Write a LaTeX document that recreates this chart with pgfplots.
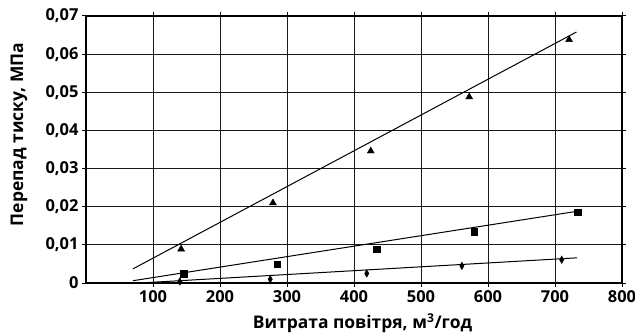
\documentclass[border=0pt]{standalone}
\usepackage{fontspec}
\setmainfont{Open Sans}
\usepackage{pgfplots}
\pgfplotsset{compat=1.18}
\begin{document}
\begin{tikzpicture}[x=1bp,y=1bp]
\useasboundingbox (0,0) rectangle (635,334);
\begin{axis}[
  at={(86bp,51bp)}, anchor=south west,
  scale only axis, width=536bp, height=267bp,
  xmin=0, xmax=800, ymin=0, ymax=0.07,
  scaled y ticks=false, scaled x ticks=false,
  xtick={100,200,300,400,500,600,700,800},
  ytick={0,0.01,0.02,0.03,0.04,0.05,0.06,0.07},
  yticklabels={0,{0,01},{0,02},{0,03},{0,04},{0,05},{0,06},{0,07}},
  grid=major,
  major grid style={black!90, line width=1bp},
  axis line style={line width=1.4bp},
  tick align=outside, major tick length=4bp,
  tick style={black, line width=1bp},
  tick label style={font=\fontsize{16.5}{19}\selectfont\bfseries},
  /pgf/number format/assume math mode=true,
  xlabel={Витрата повітря, м\textsuperscript{3}/год},
  ylabel={Перепад тиску, МПа},
  label style={font=\fontsize{17.5}{20}\selectfont\bfseries},
  xlabel style={at={(axis description cs:0.516,-0.15)}, anchor=center},
  ylabel style={at={(axis description cs:-0.125,0.556)}, anchor=center},
  clip=false,
]
% trend lines
\addplot[black, line width=1bp] coordinates {(70,0.0037) (732,0.0658)};
\addplot[black, line width=1bp] coordinates {(70,0.0006) (733,0.0188)};
\addplot[black, line width=1bp] coordinates {(90,0.0001) (733,0.0066)};
% data
\addplot[only marks, mark=triangle*, mark size=4bp, black] coordinates {
  (142,0.0089) (279,0.0210) (425,0.0346) (572,0.0488) (721,0.0638)};
\addplot[only marks, mark=square*, mark size=3.2bp, black] coordinates {
  (146,0.0024) (285,0.0050) (434,0.0088) (579,0.0135) (734,0.0185)};
\addplot[only marks, mark=diamond*, mark size=3.8bp, black, mark options={xscale=0.75}] coordinates {
  (140,0.0004) (275,0.0010) (419,0.0025) (561,0.0045) (710,0.0061)};
\end{axis}
\end{tikzpicture}
\end{document}
